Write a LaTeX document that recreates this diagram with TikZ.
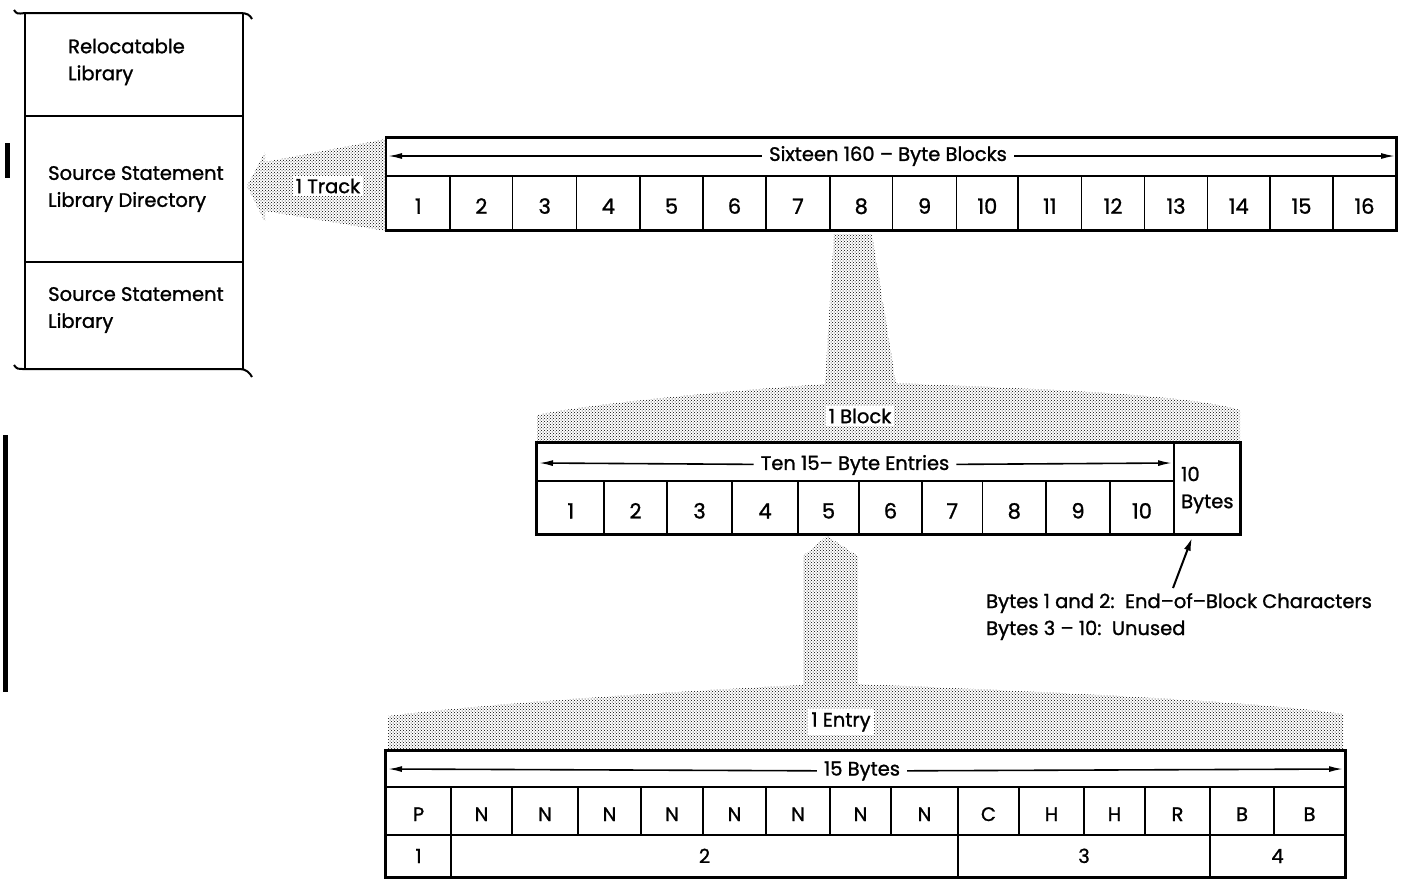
\documentclass[tikz,border=0pt]{standalone}
\usepackage{fontspec}
\setmainfont{Poppins}[UprightFeatures={FakeBold=1.2}]
\usetikzlibrary{patterns,arrows.meta,calc}
\begin{document}
\begin{tikzpicture}[x=1pt,y=-1pt,
  every node/.style={font=\fontsize{19.5}{27}\selectfont, inner sep=0pt},
  cellbox/.style={draw, line width=1.5pt, text height=#1, text depth=0pt},
  cellbox/.default=22pt,
  cellfont/.style={font=\fontsize{21}{27}\selectfont},
  frame/.style={draw, line width=2.6pt},
  thin/.style={draw, line width=1.5pt},
  dimlabel/.style={fill=white, inner xsep=7pt, inner ysep=2pt},
  dim/.style={line width=1.6pt, -{Latex[length=14pt,width=6pt]}},
  stipple/.style={pattern=crosshatch dots, pattern color=black},
  shade/.style={fill=white, inner xsep=3pt, inner ysep=3pt},
  libline/.style={line width=2pt},
  bar/.style={fill=black}
]
\useasboundingbox (0,0) rectangle (1415,879);

% ---------------- stipple "zoom" shapes ----------------
\fill[stipple] (247,186) -- (265,152) -- (265,162) -- (386,139) -- (386,231) -- (265,211) -- (265,222) -- cycle;
\fill[stipple] (834,234) -- (872,234) -- (896,383) .. controls (1000,388) and (1180,392) .. (1240,410) -- (1240,443) -- (537,443) -- (537,415) .. controls (600,402) and (740,390) .. (825,384) -- cycle;
\fill[stipple] (827,536) -- (858,556) -- (858,684) .. controls (1000,690) and (1250,700) .. (1343,714) -- (1343,751) -- (388,751) -- (388,716) .. controls (500,702) and (700,690) .. (803,685) -- (803,556) -- cycle;

% ---------------- library box ----------------
\draw[libline] (14,10) .. controls (17,14) .. (25,13) -- (240,13) .. controls (247,13) and (250,15) .. (252,19);
\draw[libline] (14,365) .. controls (17,369) .. (25,369) -- (240,369) .. controls (246,369) and (250,373) .. (252,377);
\draw[libline] (25,13) -- (25,369);
\draw[libline] (243,13) -- (243,369);
\draw[libline] (25,116) -- (243,116);
\draw[libline] (25,262) -- (243,262);
\node[anchor=west, align=left] (rel) at (68,62) {Relocatable\\Library};
\node[anchor=west, align=left] (ssd) at (48,189) {Source Statement\\Library Directory};
\node[anchor=west, align=left] (ssl) at (48,310) {Source Statement\\Library};
\fill[bar] (5,143) rectangle (10,178);
\fill[bar] (3,435) rectangle (8,692);

% ---------------- track row ----------------
\node[thin, minimum width=1009.3, minimum height=38] (th) at (891.35,157) {};
\foreach \a/\b [count=\i] in {386.7/450,450/512.7,512.7/576.7,576.7/640,640/703,703/766,766/830,830/892.5,892.5/956.7,956.7/1018,1018/1081.6,1081.6/1144.5,1144.5/1207.5,1207.5/1270,1270/1333,1333/1396}
  \node[cellbox, cellfont, minimum width={\b-\a}, minimum height=53.5] (t\i) at ({(\a+\b)/2},202.75) {\i};
\draw[frame] (th.north west) rectangle (t16.south east);
\node[dimlabel] (thl) at (888,156) {Sixteen 160 – Byte Blocks};
\coordinate (thL) at (388,156);
\coordinate (thR) at (1395,156);
\draw[dim] (thl) -- (thL);
\draw[dim] (thl) -- (thR);
\node[shade] (trk) at (328,186) {1 Track};

% ---------------- block row ----------------
\node[thin, minimum width=636.5, minimum height=38] (bh) at (855.75,462) {};
\foreach \a/\b [count=\i] in {537.5/604,604/667,667/732,732/798,798/859,859/922,922/982.5,982.5/1046,1046/1110,1110/1174}
  \node[cellbox, cellfont, minimum width={\b-\a}, minimum height=53] (b\i) at ({(\a+\b)/2},507.5) {\i};
\node[thin, minimum width=66, minimum height=91] (bb) at (1207,488.5) {};
\node[anchor=west, align=left] (bbt) at (1181,490) {10\\Bytes};
\draw[frame] (bh.north west) rectangle (bb.south east);
\node[dimlabel] (bhl) at (855,465) {Ten 15– Byte Entries};
\coordinate (bhL) at (539,463);
\coordinate (bhR) at (1172,463);
\draw[dim] (bhl) -- (bhL);
\draw[dim] (bhl) -- (bhR);
\node[shade] (blk) at (860,416) {1 Block};

% annotation
\coordinate (ann) at (1173,588);
\draw[line width=2pt, -{Latex[length=13pt,width=7pt]}] (ann) -- ([xshift=-15pt,yshift=-3pt]bb.south);
\node[anchor=base west] (note1) at (986,608) {Bytes 1 and 2:\ \ End–of–Block Characters};
\node[anchor=base west] (note2) at (986,635) {Bytes 3 – 10:\ \ Unused};

% ---------------- entry row ----------------
\node[thin, minimum width=959, minimum height=36] (eh) at (865.5,769) {};
\foreach \a/\b/\t [count=\i] in {386/451/P,451/512/N,512/578/N,578/641/N,641/703/N,703/766/N,766/830/N,830/891/N,891/958/N,958/1019/C,1019/1084/H,1084/1145/H,1145/1210/R,1210/1274/B,1274/1345/B}
  \node[cellbox=20pt, minimum width={\b-\a}, minimum height=48] (e\i) at ({(\a+\b)/2},811) {\t};
\foreach \a/\b/\t [count=\i] in {386/451/1,451/958/2,958/1210/3,1210/1345/4}
  \node[cellbox=14pt, minimum width={\b-\a}, minimum height=42] (f\i) at ({(\a+\b)/2},856) {\t};
\draw[frame] (eh.north west) rectangle (f4.south east);
\node[dimlabel] (ehl) at (862,771) {15 Bytes};
\coordinate (ehL) at (388,769);
\coordinate (ehR) at (1343,769);
\draw[dim] (ehl) -- (ehL);
\draw[dim] (ehl) -- (ehR);
\node[shade] (ent) at (841,722) {1 Entry};
\end{tikzpicture}
\end{document}
